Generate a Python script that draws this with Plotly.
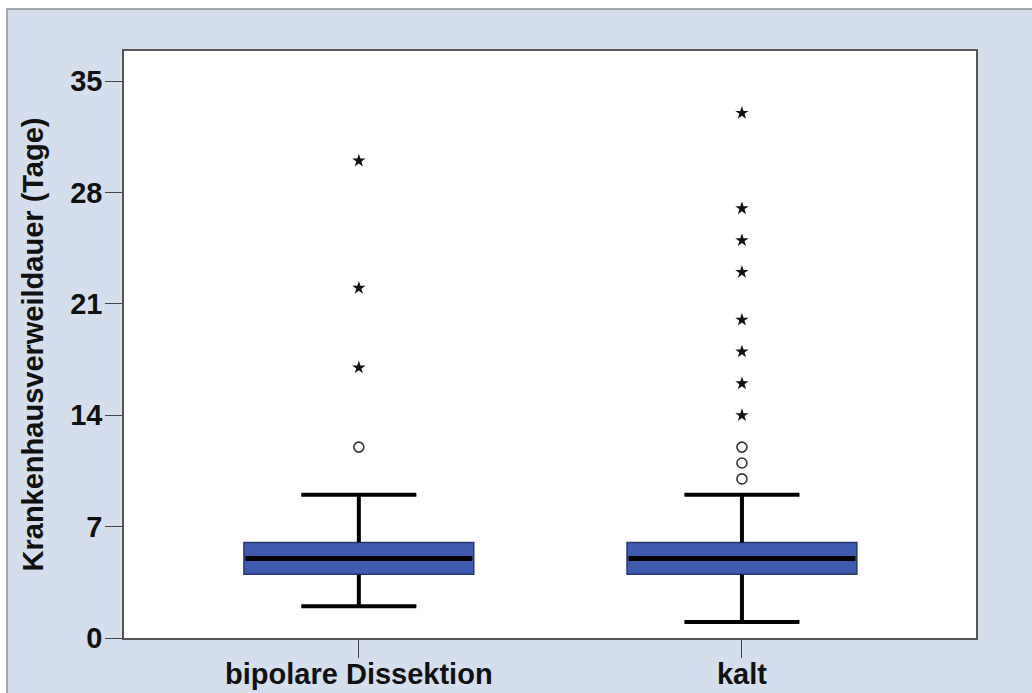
import plotly.graph_objects as go

# ---- data ----
categories = ["bipolare Dissektion", "kalt"]
q1 = [4, 4]
median = [5, 5]
q3 = [6, 6]
lower_whisker = [2, 1]
upper_whisker = [9, 9]
# mild outliers (circles)
outliers_circle = [[12], [10, 11, 12]]
# extreme outliers (stars)
outliers_star = [[17, 22, 30], [14, 16, 18, 20, 23, 25, 27, 33]]
y_ticks = [0, 7, 14, 21, 28, 35]

# ---- styles ----
BOX_W = 0.6
CAP_W = 0.3
FILL = "#3E5BB0"
EDGE = "#2A3A6E"
FRAME_BG = "#D4DEED"
FONT = "Liberation Sans, Arial, sans-serif"
FS = 29

fig = go.Figure()
xs = list(range(len(categories)))

for i in xs:
    fig.add_trace(go.Box(
        x=[i], q1=[q1[i]], median=[median[i]], q3=[q3[i]],
        lowerfence=[lower_whisker[i]], upperfence=[upper_whisker[i]],
        width=BOX_W, whiskerwidth=0.5, fillcolor=FILL,
        line=dict(color=EDGE, width=1.5), boxpoints=False,
        showlegend=False, hoverinfo="skip",
    ))
    # thick median
    fig.add_trace(go.Scatter(
        x=[i - BOX_W / 2 + 0.004, i + BOX_W / 2 - 0.004], y=[median[i], median[i]],
        mode="lines", line=dict(color="black", width=5), showlegend=False, hoverinfo="skip"))
    # whiskers + caps
    for lo, hi in ((q3[i], upper_whisker[i]), (q1[i], lower_whisker[i])):
        fig.add_trace(go.Scatter(
            x=[i, i, None, i - CAP_W / 2, i + CAP_W / 2],
            y=[lo, hi, None, hi, hi],
            mode="lines", line=dict(color="black", width=4),
            showlegend=False, hoverinfo="skip"))
    fig.add_trace(go.Scatter(
        x=[i] * len(outliers_circle[i]), y=outliers_circle[i], mode="markers",
        marker=dict(symbol="circle-open", size=10, color="#333333", line=dict(width=1.6)),
        showlegend=False, hoverinfo="skip"))
    fig.add_trace(go.Scatter(
        x=[i] * len(outliers_star[i]), y=outliers_star[i], mode="markers",
        marker=dict(symbol="star", size=10, color="#111111", line=dict(width=0)),
        showlegend=False, hoverinfo="skip"))

L, R, T, B = 124, 56, 51, 55
W, H = 1032, 693
pw, ph = W - L - R, H - T - B
fx0 = (7 - L) / pw
fy1 = (H - B - 9) / ph

fig.update_layout(
    width=W, height=H,
    margin=dict(l=L, r=R, t=T, b=B, autoexpand=False),
    paper_bgcolor=FRAME_BG, plot_bgcolor="white",
    font=dict(family=FONT, color="#111111"),
    shapes=[
        dict(type="rect", xref="paper", yref="paper", x0=-0.5, x1=fx0, y0=-0.5, y1=1.5,
             fillcolor="white", line=dict(width=0), layer="below"),
        dict(type="rect", xref="paper", yref="paper", x0=-0.5, x1=1.5, y0=fy1, y1=1.5,
             fillcolor="white", line=dict(width=0), layer="below"),
        dict(type="rect", xref="paper", yref="paper", x0=fx0, x1=1.3, y0=-0.3, y1=fy1,
             fillcolor="rgba(0,0,0,0)", line=dict(color="#8A8F98", width=1.5), layer="below"),
    ],
    xaxis=dict(
        range=[-0.613, 1.611], tickvals=xs, ticktext=categories, automargin=False,
        ticks="outside", ticklen=18, tickwidth=1.2, tickcolor="#444",
        ticklabelstandoff=-9,
        showline=True, linecolor="#555", linewidth=1.5, mirror=True,
        showgrid=False, zeroline=False,
        tickfont=dict(size=FS, family=FONT, color="#111", weight="bold"),
    ),
    yaxis=dict(
        range=[0, 36.9], tickvals=y_ticks, automargin=False,
        ticks="outside", ticklen=17, tickwidth=1.2, tickcolor="#444",
        ticklabelstandoff=-3,
        showline=True, linecolor="#555", linewidth=1.5, mirror=True,
        showgrid=False, zeroline=False,
        tickfont=dict(size=FS, family=FONT, color="#111", weight="bold"),
        title=dict(text="Krankenhausverweildauer (Tage)",
                   font=dict(size=FS, family=FONT, color="#111", weight="bold"),
                   standoff=18),
    ),
)

fig.write_html("out.html")
